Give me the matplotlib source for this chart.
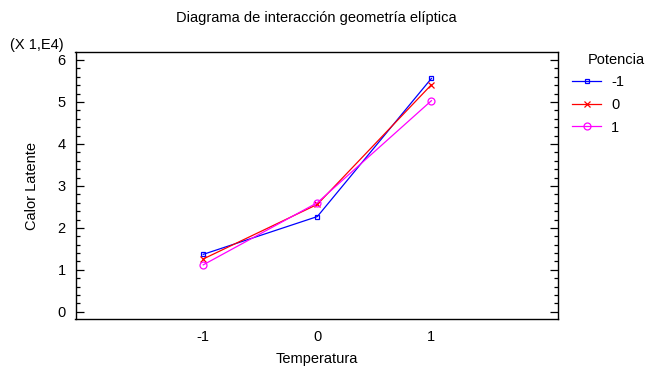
import numpy as np
import matplotlib
matplotlib.use('Agg')
import matplotlib.pyplot as plt
from matplotlib.ticker import MultipleLocator

plt.rcParams['font.family'] = ['Liberation Sans', 'DejaVu Sans']
plt.rcParams['font.size'] = 10
plt.rcParams['axes.unicode_minus'] = False

temperatura = [-1, 0, 1]
potencia = ['-1', '0', '1']
# calor latente por nivel de potencia
calor_m1 = [13700, 22700, 55600]
calor_0 = [12600, 25600, 54100]
calor_p1 = [11200, 26000, 50300]
escala = 1e4

fig = plt.figure(figsize=(6.47, 3.71), dpi=100)
ax = fig.add_axes([75.5/647, 1-319/371, (558-75.5)/647, (319-52)/371])

ax.plot(temperatura, np.array(calor_m1)/escala, color='#0000ff', lw=0.9,
        marker='s', ms=3, mfc='none', mew=0.9, label=potencia[0])
ax.plot(temperatura, np.array(calor_0)/escala, color='#ff0000', lw=0.9,
        marker='x', ms=4, mew=0.9, label=potencia[1])
ax.plot(temperatura, np.array(calor_p1)/escala, color='#ff00ff', lw=0.9,
        marker='o', ms=5, mfc='none', mew=0.9, label=potencia[2])

ax.set_xlim(-2.12, 2.11)
ax.set_ylim(-0.17, 6.19)
ax.set_xticks(temperatura)
ax.set_yticks(range(0, 7))
ax.yaxis.set_minor_locator(MultipleLocator(0.2))
ax.tick_params(axis='x', length=0, pad=8, labelsize=10.5)
ax.tick_params(axis='y', which='major', direction='in', length=6, left=True, right=True,
               width=0.9, pad=7, labelsize=10.5)
ax.tick_params(axis='y', which='minor', direction='in', length=3, left=True, right=True, width=0.9)
for s in ax.spines.values():
    s.set_linewidth(1.0)

ax.set_xlabel('Temperatura', labelpad=6, fontsize=10.5)
ax.set_ylabel('Calor Latente', labelpad=13, fontsize=10.5)
fig.text(316/647, 1-18/371, 'Diagrama de interacción geometría elíptica',
         ha='center', va='center', fontsize=10.5)
fig.text(10/647, 1-45/371, '(X 1,E4)', va='center', ha='left', fontsize=10.5)

# leyenda fuera del eje, título aparte
fig.text(588/647, 1-60/371, 'Potencia', ha='left', va='center', fontsize=10.5)
fig.legend(loc='upper left', bbox_to_anchor=(572/647, 1-75/371), frameon=False,
           borderpad=0, borderaxespad=0, handlelength=2.0, handletextpad=0.7,
           labelspacing=0.6, fontsize=10.5)

fig.savefig('out.png', dpi=100)
